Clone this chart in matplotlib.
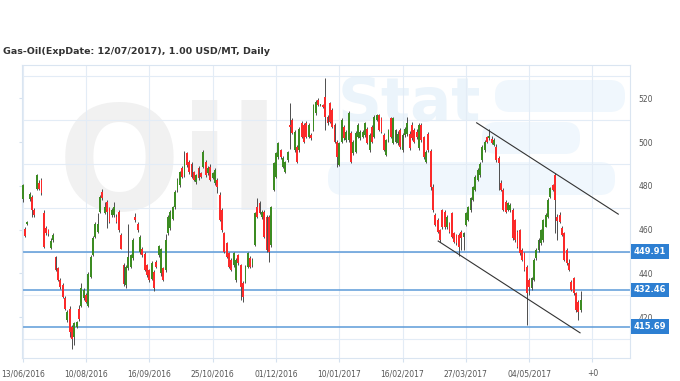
import numpy as np
import matplotlib
matplotlib.use("Agg")
import matplotlib.pyplot as plt
from matplotlib.patches import FancyBboxPatch
from matplotlib.transforms import blended_transform_factory

# daily candles (USD/MT)
opens = [
    473.8, 460.1, 462.4, 473.8, 475.0, 468.9, 478.5, 481.4, 482.6, 467.4,
    460.6, 459.8, 451.7, 455.2, 447.3, 442.3, 437.0, 434.7, 428.6, 418.7,
    424.0, 415.7, 411.1, 415.7, 423.6, 425.1, 428.6, 430.1, 425.1, 438.5,
    448.4, 456.8, 459.0, 468.2, 477.3, 467.4, 472.7, 469.7, 466.7, 466.7,
    465.9, 468.2, 457.5, 443.8, 434.7, 442.3, 443.1, 446.9, 465.9, 462.8,
    449.9, 451.4, 449.1, 443.8, 441.5, 437.7, 440.8, 445.3, 448.4, 440.0,
    442.3, 441.5, 458.3, 460.6, 465.1, 470.5, 478.1, 480.4, 488.0, 484.9,
    494.8, 491.0, 490.2, 486.4, 481.9, 488.0, 485.7, 488.7, 491.0,
    485.7, 488.8, 483.4, 481.1, 482.7, 475.8, 469.0, 458.3, 453.7, 449.2,
    446.1, 443.9, 437.0, 448.4, 443.9, 435.5, 436.2, 443.1, 446.9, 443.9,
    453.0, 470.5, 472.0, 465.9, 468.2, 465.9, 465.9, 453.0, 478.1, 484.2,
    493.3, 496.4, 488.8, 486.5, 491.8, 507.8, 510.1, 496.4, 497.9, 496.4,
    508.5, 507.8, 508.5, 502.5, 503.2, 505.5, 513.1, 519.2, 516.9, 516.9,
    520.7, 511.6, 517.7, 514.6, 507.8, 500.2, 489.5, 500.2, 507.0, 500.9,
    500.9, 504.0, 494.8, 495.6, 502.5, 501.7, 502.5, 503.2, 506.2, 496.4,
    507.0, 502.5, 510.1, 512.3, 510.8, 503.2, 494.1, 500.9, 510.8, 499.4,
    500.2,
    499.4, 505.5, 496.3, 503.2, 503.9, 503.9, 507.8, 505.5, 504.7, 497.1,
    507.8, 502.4, 491.0, 503.9, 496.0, 479.6, 466.7, 464.4, 459.8, 468.9,
    468.2, 461.3, 462.9, 467.4, 458.3, 457.5, 457.5, 459.0, 456.8, 462.1,
    464.4, 468.9, 473.5, 478.1, 482.7, 484.9, 491.8, 496.3, 502.4,
    502.0, 501.6, 498.6, 497.8, 492.6,
    481.2, 478.1, 472.8, 469.0, 469.0, 469.0, 464.4, 459.1, 459.9, 450.7,
    449.2, 443.1, 437.0, 433.2, 437.0, 446.9, 450.7, 453.8, 455.3, 461.4,
    466.0, 475.1, 480.4, 485.0, 466.0, 466.7, 460.6, 458.3, 450.7, 444.6,
    436.3, 437.8, 430.9, 427.1, 423.3,
]
highs = [
    481.0, 461.0, 464.0, 477.0, 476.0, 470.0, 485.5, 482.5, 483.5, 469.0,
    461.5, 460.5, 456.0, 458.5, 448.0, 443.0, 438.0, 435.5, 429.5, 423.5,
    425.0, 416.5, 418.0, 418.5, 425.5, 435.5, 433.5, 431.0, 440.5, 448.5,
    457.0, 463.5, 467.4, 476.0, 478.5, 472.5, 473.5, 470.5, 470.0, 472.5,
    467.0, 469.0, 458.5, 445.0, 444.0, 462.8, 449.0, 456.0, 467.5, 463.5,
    457.5, 452.0, 450.0, 444.5, 442.0, 445.5, 441.5, 446.0, 453.0, 451.5,
    443.0, 458.0, 466.5, 469.0, 471.0, 478.0, 483.5, 487.0, 489.0, 496.0,
    495.5, 492.0, 491.0, 487.0, 485.5, 489.0, 486.5, 496.5, 492.0,
    489.0, 490.0, 486.5, 488.0, 483.5, 477.0, 470.0, 459.0, 454.5, 450.0,
    447.0, 450.0, 447.0, 449.0, 444.5, 436.5, 444.0, 450.0, 448.0, 447.0,
    468.0, 474.3, 473.0, 469.0, 469.0, 466.5, 466.5, 471.0, 491.0, 495.5,
    500.0, 497.0, 493.5, 491.5, 496.0, 517.7, 511.0, 505.5, 498.5, 507.0,
    509.5, 508.5, 509.5, 508.5, 504.0, 517.5, 519.0, 520.0, 517.5, 517.5,
    529.1, 512.5, 518.5, 515.5, 508.5, 501.0, 500.0, 511.0, 508.0, 505.5,
    514.0, 505.0, 501.0, 505.0, 508.5, 505.5, 505.5, 509.0, 507.0, 504.0,
    508.0, 512.5, 513.0, 513.0, 511.5, 504.0, 501.5, 506.0, 511.5, 511.5,
    506.0,
    505.0, 506.5, 504.0, 507.0, 511.6, 505.0, 509.0, 506.5, 506.0, 508.5,
    508.5, 503.0, 496.5, 504.5, 497.0, 481.0, 467.5, 465.5, 460.5, 469.5,
    469.0, 466.5, 463.5, 468.0, 459.0, 458.0, 458.5, 460.0, 459.0, 468.0,
    471.0, 475.0, 480.0, 485.0, 488.0, 491.0, 498.5, 501.0, 503.0,
    506.2, 503.0, 502.0, 499.0, 493.5,
    482.5, 479.0, 473.5, 472.8, 472.0, 470.0, 465.0, 460.0, 460.5, 451.5,
    450.0, 444.0, 438.0, 438.5, 447.0, 451.5, 456.0, 460.5, 465.0, 467.5,
    474.5, 479.5, 481.0, 485.8, 467.0, 468.2, 461.5, 459.0, 451.5, 446.5,
    437.0, 438.5, 431.5, 428.0, 432.0,
]
lows = [
    472.5, 456.5, 462.0, 473.0, 465.9, 466.0, 478.0, 478.0, 476.0, 451.5,
    457.5, 457.0, 451.0, 454.5, 441.0, 436.5, 433.0, 429.0, 423.5, 418.0,
    411.1, 405.3, 407.3, 415.0, 418.5, 424.5, 428.0, 426.5, 424.5, 438.0,
    448.0, 456.0, 458.5, 467.5, 473.5, 467.0, 460.6, 463.0, 466.0, 466.0,
    463.0, 459.0, 451.0, 434.5, 433.5, 441.5, 442.5, 446.0, 463.5, 459.0,
    449.0, 447.5, 441.0, 438.5, 436.0, 437.0, 432.0, 442.5, 447.5, 439.0,
    436.5, 440.5, 457.5, 460.0, 464.5, 469.5, 477.0, 479.5, 483.5, 484.0,
    488.5, 485.5, 483.5, 482.0, 481.0, 482.5, 483.5, 488.0, 484.0,
    485.0, 482.0, 483.0, 480.5, 476.6, 464.0, 459.0, 449.5, 447.0, 442.5,
    441.0, 443.0, 436.0, 444.0, 427.9, 427.0, 435.5, 442.5, 442.5, 443.0,
    452.5, 465.5, 467.0, 465.0, 456.0, 450.0, 445.4, 452.0, 477.5, 483.5,
    492.5, 492.5, 488.0, 486.0, 491.0, 497.0, 503.5, 495.5, 490.5, 495.5,
    502.0, 499.5, 502.0, 502.0, 501.0, 505.0, 512.5, 516.5, 516.5, 515.5,
    505.5, 508.0, 508.5, 506.5, 499.5, 488.8, 489.0, 499.5, 501.0, 500.0,
    500.0, 490.5, 494.0, 495.0, 502.0, 501.0, 502.0, 502.5, 499.0, 495.5,
    499.5, 502.0, 509.5, 505.0, 504.0, 496.0, 493.5, 500.0, 502.0, 499.0,
    499.5,
    498.5, 497.0, 495.5, 502.5, 503.0, 496.5, 501.0, 499.5, 501.5, 496.5,
    500.0, 492.5, 490.5, 495.5, 478.0, 468.0, 461.5, 458.5, 454.5, 460.5,
    460.5, 460.5, 458.5, 456.0, 454.0, 453.0, 448.0, 450.7, 450.5, 461.5,
    464.0, 468.0, 473.0, 477.5, 482.0, 484.0, 491.0, 495.5, 499.5,
    501.0, 499.0, 498.0, 491.0, 478.0,
    477.5, 468.5, 467.5, 468.5, 468.0, 455.5, 454.5, 451.5, 448.5, 445.5,
    441.0, 416.5, 430.0, 432.5, 436.5, 446.0, 450.0, 453.0, 454.5, 461.0,
    465.5, 474.5, 477.5, 458.3, 455.3, 463.0, 457.0, 445.5, 444.0, 441.0,
    432.0, 430.0, 422.5, 418.9, 422.5,
]
closes = [
    480.4, 457.1, 463.6, 476.2, 469.2, 466.7, 484.9, 478.8, 476.9, 452.2,
    458.3, 458.0, 454.9, 457.5, 441.5, 437.0, 433.9, 429.4, 424.0, 422.5,
    413.4, 410.3, 417.2, 417.9, 419.0, 433.2, 432.4, 427.1, 439.7, 447.6,
    456.0, 462.8, 462.8, 475.0, 474.3, 470.5, 468.2, 463.6, 469.0, 470.5,
    463.6, 459.8, 451.4, 435.4, 443.1, 447.6, 448.4, 455.2, 464.4, 459.8,
    456.8, 448.4, 441.5, 439.2, 437.0, 444.6, 433.2, 443.1, 452.5, 451.0,
    437.0, 455.2, 465.9, 468.2, 470.5, 477.3, 482.6, 486.4, 484.2, 491.8,
    489.5, 486.4, 484.2, 482.6, 484.9, 483.4, 484.2, 495.6, 484.9,
    488.0, 482.7, 485.7, 487.2, 479.6, 464.4, 459.8, 449.9, 447.7, 443.1,
    441.6, 449.2, 446.1, 444.6, 434.0, 429.4, 443.1, 449.2, 443.1, 446.1,
    467.4, 465.9, 467.4, 468.2, 456.8, 450.7, 449.9, 470.5, 490.3, 494.8,
    499.4, 493.3, 492.6, 491.0, 495.6, 507.0, 504.0, 504.7, 491.0, 506.2,
    502.5, 500.2, 502.5, 507.8, 501.7, 516.9, 518.4, 516.9, 516.9, 516.1,
    511.6, 508.5, 509.3, 507.0, 500.2, 493.3, 499.4, 510.1, 501.7, 504.7,
    513.1, 491.0, 500.2, 504.0, 507.8, 504.7, 504.7, 508.5, 499.4, 503.2,
    500.2, 511.6, 512.3, 505.5, 504.7, 496.4, 500.9, 505.5, 502.5, 510.8,
    505.5,
    503.9, 497.9, 503.2, 506.2, 508.5, 497.1, 501.7, 500.1, 502.4, 507.8,
    500.9, 493.3, 495.6, 496.3, 479.6, 468.9, 462.1, 459.0, 455.2, 461.3,
    461.3, 465.9, 459.0, 456.8, 454.5, 453.7, 452.2, 456.0, 458.3, 467.4,
    470.5, 474.3, 479.6, 484.2, 487.2, 490.2, 497.9, 500.1, 500.1,
    502.8, 499.4, 500.9, 491.7, 490.3,
    478.1, 469.0, 468.2, 472.0, 471.3, 456.1, 455.3, 452.3, 449.2, 446.2,
    441.6, 430.9, 434.0, 437.8, 446.2, 450.7, 455.3, 459.9, 464.4, 466.7,
    473.6, 478.9, 478.1, 473.6, 464.0, 463.7, 457.6, 446.2, 444.6, 441.6,
    432.5, 430.9, 423.3, 422.6, 427.9,
]

date_labels = ["13/06/2016", "10/08/2016", "16/09/2016", "25/10/2016",
               "01/12/2016", "10/01/2017", "16/02/2017", "27/03/2017",
               "04/05/2017", "+0"]
date_pos = [0, 27, 54, 81, 108, 135, 162, 189, 216, 243]

levels = [449.91, 432.46, 415.69]

# channel lines drawn on the chart (bar index, price)
upper_x, upper_y = [193.6, 254.0], [508.8, 467.1]
lower_x, lower_y = [177.2, 237.7], [454.8, 412.9]

fig = plt.figure(figsize=(6.8, 3.81), dpi=100)
ax = fig.add_axes([22 / 680, 23 / 381, 608 / 680, 293 / 381])
ax.set_facecolor("none")

# faint logo watermark behind the chart
fig.text(58 / 680, 1 - 170 / 381, "Oil", fontsize=104, fontweight="bold",
         color="#f1f1f1", va="center", ha="left", zorder=-2)
fig.text(338 / 680, 1 - 104 / 381, "Stat", fontsize=44, fontweight="bold",
         color="#ebf4fb", va="center", ha="left", zorder=-2)
for (x0, y0, w, hh) in [(495, 80, 130, 32), (482, 122, 98, 32), (328, 162, 287, 33)]:
    fig.add_artist(FancyBboxPatch((x0 / 100, (381 - y0 - hh) / 100), w / 100, hh / 100,
                                  boxstyle="round,pad=0,rounding_size=0.15",
                                  transform=fig.dpi_scale_trans, fc="#f0f7fd",
                                  ec="none", zorder=-3))

o = np.array(opens)
h = np.array(highs)
l = np.array(lows)
c = np.array(closes)
x = np.arange(len(c))
up = c >= o
bottom = np.minimum(o, c)
height = np.maximum(np.abs(c - o), 0.5)

ax.vlines(x, l, h, color="#4d4d4d", lw=0.7, zorder=3)
ax.bar(x[up], height[up], bottom=bottom[up], width=0.8, color="#3c8c22", lw=0, zorder=4)
ax.bar(x[~up], height[~up], bottom=bottom[~up], width=0.8, color="#fb2a2a", lw=0, zorder=4)

ax.set_xlim(-0.3, 259.0)
ax.set_ylim(401.4, 535.2)

# grid
ax.set_yticks(range(420, 521, 20))
ax.set_yticks(range(410, 531, 20), minor=True)
ax.yaxis.grid(True, which="minor", color="#e3ecf6", lw=0.8, zorder=1)
ax.set_xticks(date_pos)
ax.set_xticklabels(date_labels)
ax.xaxis.grid(True, color="#e3ecf6", lw=0.8, zorder=1)
ax.set_axisbelow(True)

ax.tick_params(axis="y", which="major", left=True, right=False, labelleft=False,
               labelright=True, length=2, color="#d5e1ee", labelsize=5.5,
               labelcolor="#555555", pad=4)
ax.tick_params(axis="y", which="minor", left=False, right=False)
ax.tick_params(axis="x", length=3, color="#d5e1ee", labelsize=5.5,
               labelcolor="#555555", pad=5)
for s in ax.spines.values():
    s.set_color("#dae5f1")
    s.set_linewidth(0.8)

# support / resistance levels with price tags
tr = blended_transform_factory(ax.transAxes, ax.transData)
for v in levels:
    ax.axhline(v, color="#5d9bd8", lw=1.1, zorder=2)
    ax.text(1.0 + 4 / 608, v, f"{v:.2f}", transform=tr, ha="left", va="center",
            color="white", fontsize=6, fontweight="bold", clip_on=False,
            bbox=dict(boxstyle="square,pad=0.35", fc="#2d7fd2", ec="none"))

# channel
ax.plot(upper_x, upper_y, color="#333333", lw=0.8, zorder=5)
ax.plot(lower_x, lower_y, color="#333333", lw=0.8, zorder=5)

fig.text(3 / 680, 1 - 52 / 381, "Gas-Oil(ExpDate: 12/07/2017), 1.00 USD/MT, Daily",
         fontsize=6.8, fontweight="bold", color="#333333", va="center", ha="left")

fig.savefig("out.png", dpi=100)
